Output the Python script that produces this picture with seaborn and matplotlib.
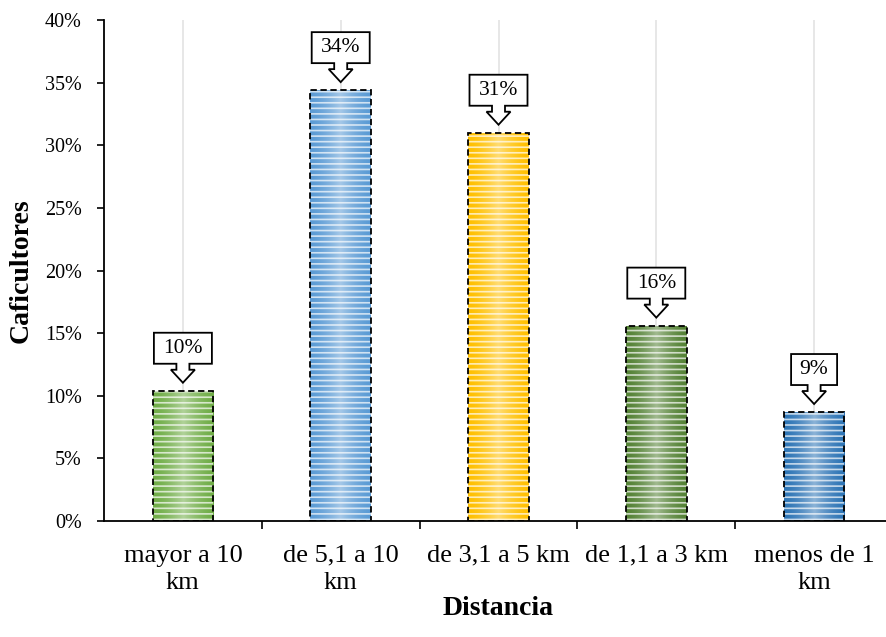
import numpy as np
import matplotlib
matplotlib.use("Agg")
import matplotlib.pyplot as plt
import seaborn as sns
import pandas as pd
from matplotlib.patches import Rectangle, Polygon
from matplotlib.transforms import ScaledTranslation
from matplotlib.colors import to_rgb
from matplotlib.ticker import FixedLocator

categories = ["mayor a 10\nkm", "de 5,1 a 10\nkm", "de 3,1 a 5 km", "de 1,1 a 3 km", "menos de 1\nkm"]
values = [10.4, 34.4, 31.0, 15.6, 8.7]
labels = ["10%", "34%", "31%", "16%", "9%"]
colors = ["#70AD47", "#5B9BD5", "#FFC000", "#548235", "#2E75B6"]
yticks = [0, 5, 10, 15, 20, 25, 30, 35, 40]

sns.set_theme(style="white")
plt.rcParams['font.family'] = ['Liberation Serif', 'DejaVu Serif']
plt.rcParams['hatch.linewidth'] = 1.2
plt.rcParams['text.color'] = 'black'
plt.rcParams['axes.labelcolor'] = 'black'
plt.rcParams['xtick.color'] = 'black'
plt.rcParams['ytick.color'] = 'black'

W, H = 886, 637
fig = plt.figure(figsize=(W / 100, H / 100), dpi=100)
ax = fig.add_axes([104 / W, 1 - 521 / H, (893 - 104) / W, (521 - 20) / H])

df = pd.DataFrame({"Distancia": categories, "Caficultores": values})
sns.barplot(data=df, x="Distancia", y="Caficultores", hue="Distancia",
            palette=colors, width=0.385, legend=False, ax=ax, zorder=2,
            saturation=1, linewidth=0)

for p, c in zip(list(ax.patches), colors):
    x0, y0 = p.get_x(), p.get_y()
    w, h = p.get_width(), p.get_height()
    rgb = np.array(to_rgb(c))
    t = np.linspace(0, 1, 64)
    light = 1 - np.abs(2 * t - 1)
    mix = 0.45 * light ** 1.5
    img = rgb[None, :] * (1 - mix[:, None]) + mix[:, None]
    im = ax.imshow(img[None, :, :], extent=(x0, x0 + w, y0, y0 + h),
                   aspect='auto', zorder=2.1, interpolation='bilinear')
    im.set_clip_path(p)
    ax.add_patch(Rectangle((x0, y0), w, h, fill=False, hatch='---',
                           edgecolor=(1, 1, 1, 0.7), lw=0, zorder=2.2))
    ax.add_patch(Rectangle((x0, y0), w, h, fill=False, edgecolor='black',
                           ls=(0, (3.5, 2)), lw=1.3, zorder=2.3))

# callouts
for i, (v, lab) in enumerate(zip(values, labels)):
    tr = fig.dpi_scale_trans + ScaledTranslation(i, v, ax.transData)
    hw = (22 + 12 * len(lab)) / 2
    pts = [(-hw, 27), (-6.5, 27), (-6.5, 21), (-12, 21), (0, 8), (12, 21),
           (6.5, 21), (6.5, 27), (hw, 27), (hw, 58), (-hw, 58)]
    pts = [(a / 100, b / 100) for a, b in pts]
    ax.add_patch(Polygon(pts, closed=True, facecolor='white', edgecolor='black',
                         lw=1.3, transform=tr, zorder=4, clip_on=False))
    ax.text(0, 0.425, lab, transform=tr, ha='center', va='center',
            fontsize=15.5, zorder=5)

ax.set_xlim(-0.5, 4.5)
ax.set_ylim(0, 40)
ax.set_yticks(yticks)
ax.set_yticklabels([f"{y}%" for y in yticks], fontsize=14.5)
ax.xaxis.set_minor_locator(FixedLocator([0.5, 1.5, 2.5, 3.5]))
ax.tick_params(axis='x', which='major', length=0, pad=17, labelsize=19)
ax.tick_params(axis='x', which='minor', length=6, width=1.2, color='black', direction='out', bottom=True)
ax.tick_params(axis='y', which='major', length=5, width=1.2, color='black', direction='out', left=True, pad=11)
for lab in ax.get_xticklabels():
    lab.set_linespacing(1.3)

ax.xaxis.grid(True, which='major', color='#E3E3E3', lw=1.2)
ax.yaxis.grid(False)
ax.set_axisbelow(True)

for s in ['top', 'right']:
    ax.spines[s].set_visible(False)
for s in ['left', 'bottom']:
    ax.spines[s].set_color('black')
    ax.spines[s].set_linewidth(1.3)

ax.set_xlabel("Distancia", fontsize=20, fontweight='bold', labelpad=2)
ax.set_ylabel("Caficultores", fontsize=20, fontweight='bold', labelpad=8)

fig.savefig("out.png", dpi=100)
